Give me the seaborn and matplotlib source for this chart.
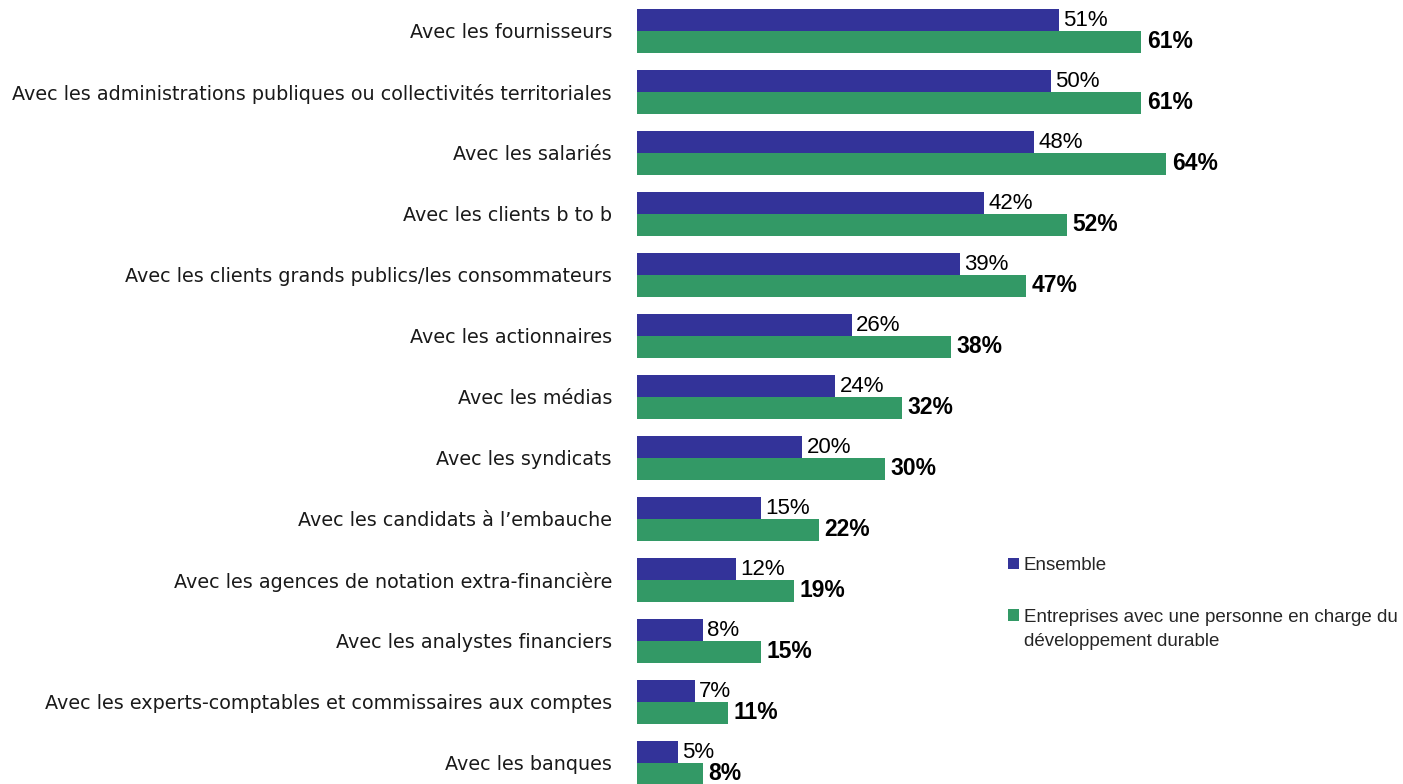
import pandas as pd
import seaborn as sns
import matplotlib.pyplot as plt
from matplotlib.patches import Patch

categories = [
    "Avec les fournisseurs",
    "Avec les administrations publiques ou collectivités territoriales",
    "Avec les salariés",
    "Avec les clients b to b",
    "Avec les clients grands publics/les consommateurs",
    "Avec les actionnaires",
    "Avec les médias",
    "Avec les syndicats",
    "Avec les candidats à l\u2019embauche",
    "Avec les agences de notation extra-financière",
    "Avec les analystes financiers",
    "Avec les experts-comptables et commissaires aux comptes",
    "Avec les banques",
]
ensemble = [51, 50, 48, 42, 39, 26, 24, 20, 15, 12, 8, 7, 5]
entreprises = [61, 61, 64, 52, 47, 38, 32, 30, 22, 19, 15, 11, 8]
series = ["Ensemble",
          "Entreprises avec une personne en charge du développement durable"]
colors = ["#333399", "#339966"]

df = pd.DataFrame({
    "cat": categories * 2,
    "val": ensemble + entreprises,
    "serie": [series[0]] * len(categories) + [series[1]] * len(categories),
})

sns.set_style("white")
plt.rcParams['font.family'] = ['Liberation Sans', 'DejaVu Sans']

fig = plt.figure(figsize=(14.03, 7.84), dpi=100)
ax = fig.add_axes([637 / 1403, 1 - 793.5 / 784, 661.6 / 1403, 793 / 784])

sns.barplot(data=df, y="cat", x="val", hue="serie", palette=colors,
            width=0.72, orient="h", ax=ax, legend=False, saturation=1,
            linewidth=0)

ax.set_xlim(0, 80)
ax.set_ylim(12.5, -0.5)
ax.set_xlabel("")
ax.set_ylabel("")
ax.set_xticks([])
for s in ax.spines.values():
    s.set_visible(False)
ax.tick_params(axis="y", length=0, pad=18)
for lab in ax.get_yticklabels():
    lab.set_fontfamily("DejaVu Sans")
    lab.set_fontsize(13.8)
    lab.set_color("#1a1a1a")

ax.bar_label(ax.containers[0], labels=[f"{v}%" for v in ensemble],
             padding=3, fontsize=16, color="black")
ax.bar_label(ax.containers[1], labels=[f"{v}%" for v in entreprises],
             padding=4, fontsize=16.5, fontweight="bold", color="black")

# legend: second label wraps on two lines, first line next to the marker
handles = [Patch(facecolor=c, edgecolor="none") for c in colors]
leg = fig.legend(handles, ["Ensemble", "Entreprises avec une personne en charge du"],
                 loc="upper left", bbox_to_anchor=(1008 / 1403, 1 - 557 / 784),
                 frameon=False, fontsize=13.5, handlelength=0.58,
                 handleheight=0.58, handletextpad=0.27, labelspacing=1.85,
                 borderpad=0, borderaxespad=0)
fig.text(1024 / 1403, 1 - 641 / 784, "développement durable",
         fontsize=13.5, va="center", ha="left")

fig.savefig("out.png", dpi=100)
